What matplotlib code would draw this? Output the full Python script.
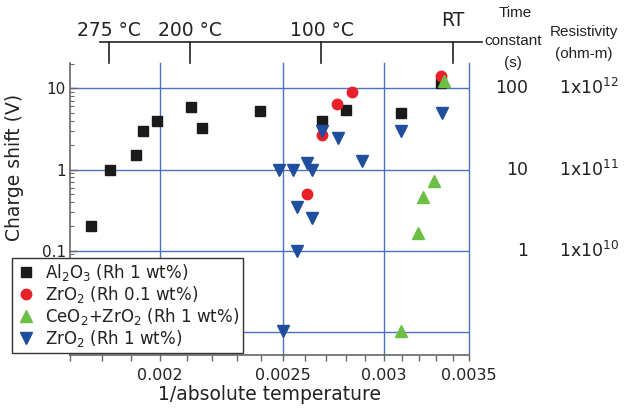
import numpy as np
import matplotlib
matplotlib.use("Agg")
import matplotlib.pyplot as plt
from matplotlib.ticker import FixedLocator, FixedFormatter, NullFormatter
from matplotlib.lines import Line2D

# Data (x = 1/absolute temperature, y = charge shift in V)
al2o3_x = [0.001765, 0.001826, 0.001914, 0.001940, 0.001989, 0.002115, 0.002160,
           0.002399, 0.002682, 0.002800, 0.003094, 0.003329]
al2o3_y = [0.20, 1.0, 1.49, 3.0, 4.0, 5.9, 3.27, 5.25, 4.0, 5.45, 5.0, 11.7]

zro2_01_x = [0.002682, 0.002755, 0.002832, 0.002609, 0.003329]
zro2_01_y = [2.65, 6.5, 9.1, 0.50, 14.2]

ceo2_x = [0.003346, 0.003288, 0.003223, 0.003190, 0.003094]
ceo2_y = [12.4, 0.72, 0.46, 0.165, 0.0102]

zro2_1_x = [0.002682, 0.002763, 0.003094, 0.003333, 0.002882, 0.002481, 0.002547,
            0.002612, 0.002633, 0.002563, 0.002633, 0.002563, 0.002500]
zro2_1_y = [3.0, 2.45, 2.97, 4.9, 1.26, 0.98, 0.98, 1.19, 0.98, 0.345, 0.253, 0.098, 0.0102]

x_ticks = [0.002, 0.0025, 0.003, 0.0035]
x_tick_labels = ["0.002", "0.0025", "0.003", "0.0035"]
y_ticks = [10, 1, 0.1, 0.01]
y_tick_labels = ["10", "1", "0.1", ""]  # 0.01 label sits under the legend

temp_c = [275, 200, 100, 21]
temp_labels = ["275 °C", "200 °C", "100 °C", "RT"]

time_constants = ["100", "10", "1"]
resistivities = [r"1x10$^{12}$", r"1x10$^{11}$", r"1x10$^{10}$"]
right_y = [10, 1, 0.1]

grid_blue = "#4a72c4"
text_col = "#222222"
spine_col = "#666666"

fig = plt.figure(figsize=(6.25, 4.12), dpi=100)
ax = fig.add_axes([70 / 625, 1 - 355 / 412, 399 / 625, 292 / 412])

ax.set_xscale("log")
ax.set_yscale("log")
ax.set_xlim(0.0017, 0.0035)
ax.set_ylim(0.0052, 20.5)

# grid lines (only at major positions)
for xv in x_ticks:
    ax.axvline(xv, color=grid_blue, lw=1.0, zorder=1, clip_on=False)
for yv in y_ticks:
    ax.axhline(yv, color=grid_blue, lw=1.0, zorder=1)

ms = 7
ax.plot(al2o3_x, al2o3_y, "s", color="#1a1a1a", ms=ms, ls="none", zorder=3,
        label=r"Al$_2$O$_3$ (Rh 1 wt%)")
ax.plot(zro2_01_x, zro2_01_y, "o", color="#e8202a", ms=ms + 0.5, ls="none", zorder=3,
        label=r"ZrO$_2$ (Rh 0.1 wt%)")
ax.plot(ceo2_x, ceo2_y, "^", color="#6cbf45", ms=ms + 1, ls="none", zorder=4,
        label=r"CeO$_2$+ZrO$_2$ (Rh 1 wt%)")
ax.plot(zro2_1_x, zro2_1_y, "v", color="#1f4e9e", ms=ms + 1, ls="none", zorder=4,
        label=r"ZrO$_2$ (Rh 1 wt%)")

# spines
for s in ["top", "right"]:
    ax.spines[s].set_visible(False)
for s in ["left", "bottom"]:
    ax.spines[s].set_color(spine_col)
    ax.spines[s].set_linewidth(1.2)

# x ticks
ax.xaxis.set_major_locator(FixedLocator(x_ticks))
ax.xaxis.set_major_formatter(FixedFormatter(x_tick_labels))
ax.xaxis.set_minor_locator(FixedLocator(np.arange(0.0017, 0.00351, 0.0001)))
ax.xaxis.set_minor_formatter(NullFormatter())
ax.tick_params(axis="x", which="both", direction="out", length=4, width=1,
               color=spine_col, labelsize=11.5, labelcolor=text_col, pad=5)

# y ticks
ax.yaxis.set_major_locator(FixedLocator(y_ticks))
ax.yaxis.set_major_formatter(FixedFormatter(y_tick_labels))
ax.yaxis.set_minor_formatter(NullFormatter())
ax.tick_params(axis="y", which="major", direction="in", length=5, width=1,
               color=spine_col, labelsize=11, labelcolor=text_col, pad=3)
ax.tick_params(axis="y", which="minor", direction="in", length=3, width=0.8,
               color=spine_col)

ax.set_xlabel("1/absolute temperature", fontsize=13.5, color=text_col, labelpad=2)
ax.set_ylabel("Charge shift (V)", fontsize=13.5, color=text_col)
ax.yaxis.set_label_coords(-0.115, 0.642)

# top temperature scale
tr = ax.get_xaxis_transform()
ax.add_line(Line2D([0.075, 1.033], [1.072, 1.072], transform=ax.transAxes,
                   color="#222222", lw=1.2, clip_on=False))
for t, lab in zip(temp_c, temp_labels):
    xv = 1.0 / (t + 273.15)
    ax.add_line(Line2D([xv, xv], [1.0, 1.072], transform=tr, color="#222222",
                       lw=1.2, clip_on=False))
    yy = 1.145 if lab == "RT" else 1.11
    ax.text(xv, yy, lab, transform=tr, ha="center", va="center",
            fontsize=13.5, color=text_col)

# right hand columns
fig.text(515 / 625, 1 - 13 / 412, "Time", ha="center", va="center",
         fontsize=11, color=text_col, family="Liberation Sans")
fig.text(513 / 625, 1 - 41 / 412, "constant", ha="center", va="center",
         fontsize=11, color=text_col, family="Liberation Sans")
fig.text(513 / 625, 1 - 63 / 412, "(s)", ha="center", va="center",
         fontsize=11, color=text_col, family="Liberation Sans")
fig.text(584 / 625, 1 - 32 / 412, "Resistivity", ha="center", va="center",
         fontsize=11, color=text_col, family="Liberation Sans")
fig.text(584 / 625, 1 - 54 / 412, "(ohm-m)", ha="center", va="center",
         fontsize=11, color=text_col, family="Liberation Sans")

ty = ax.get_yaxis_transform()
for yv, tc, rs in zip(right_y, time_constants, resistivities):
    ax.text(1.148, yv, tc, transform=ty, ha="right", va="center",
            fontsize=12.5, color=text_col)
    ax.text(1.226, yv, rs, transform=ty, ha="left", va="center",
            fontsize=12.5, color=text_col)

leg = ax.legend(loc="lower left", bbox_to_anchor=(-0.145, 0.007), fontsize=12,
                frameon=True, fancybox=False, framealpha=1, edgecolor="#333333",
                borderpad=0.25, labelspacing=0.05, handletextpad=0.5,
                handlelength=1.2, borderaxespad=0)
leg.get_frame().set_linewidth(1.0)
leg.set_zorder(10)
for txt in leg.get_texts():
    txt.set_color(text_col)

fig.savefig("out.png", dpi=100)
